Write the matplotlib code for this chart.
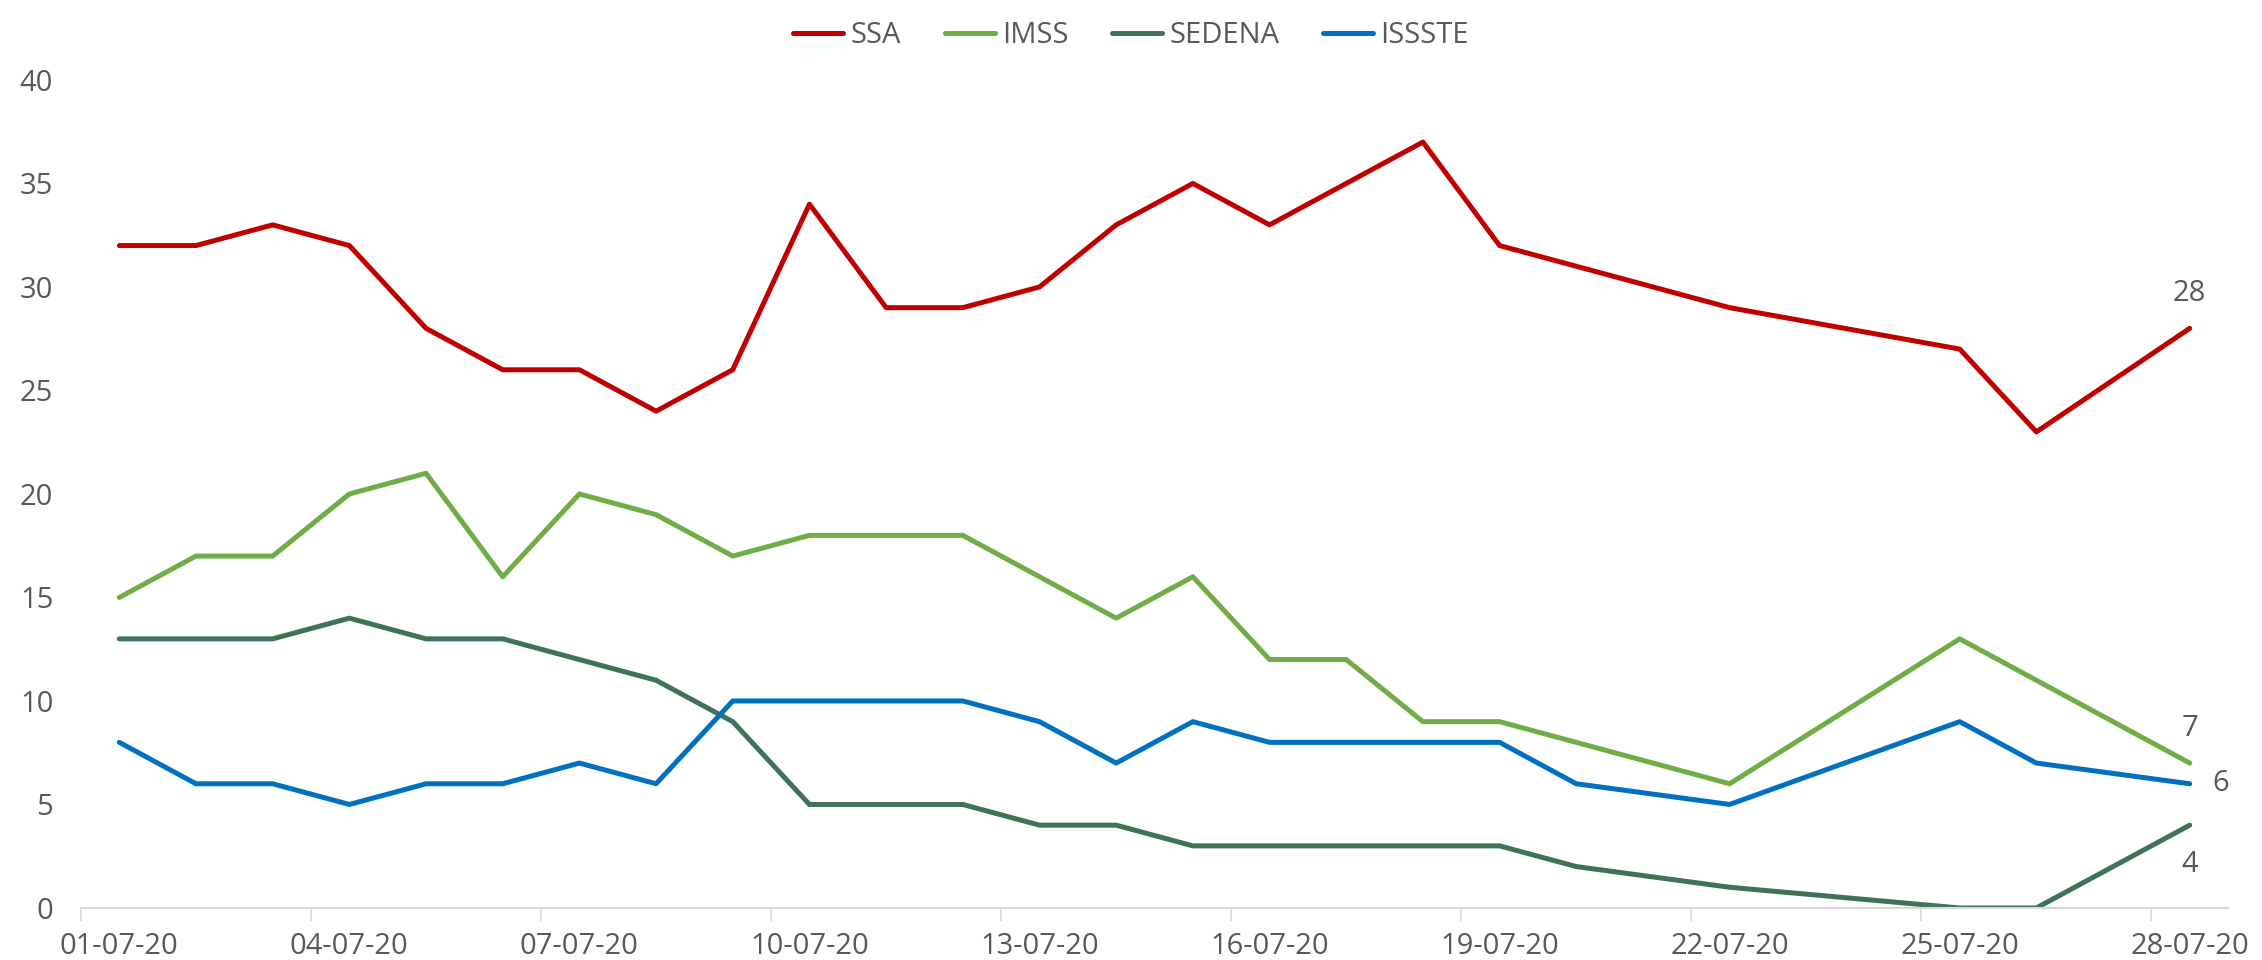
import numpy as np
import matplotlib
matplotlib.use("Agg")
import matplotlib.pyplot as plt

# ---- data ----
dates = ["01-07-20", "02-07-20", "03-07-20", "04-07-20", "05-07-20", "06-07-20", "07-07-20",
         "08-07-20", "09-07-20", "10-07-20", "11-07-20", "12-07-20", "13-07-20", "14-07-20",
         "15-07-20", "16-07-20", "17-07-20", "18-07-20", "19-07-20", "20-07-20", "21-07-20",
         "22-07-20", "23-07-20", "24-07-20", "25-07-20", "26-07-20", "27-07-20", "28-07-20"]
N = None
ssa    = [32, 32, 33, 32, 28, 26, 26, 24, 26, 34, 29, 29, 30, 33, 35, 33, 35, 37, 32, 31, N, 29, N, N, 27, 23, N, 28]
imss   = [15, 17, 17, 20, 21, 16, 20, 19, 17, 18, 18, 18, 16, 14, 16, 12, 12, 9, 9, 8, N, 6, N, N, 13, 11, N, 7]
sedena = [13, 13, 13, 14, 13, 13, 12, 11, 9, 5, 5, 5, 4, 4, 3, 3, 3, 3, 3, 2, N, 1, N, N, 0, 0, N, 4]
issste = [8, 6, 6, 5, 6, 6, 7, 6, 10, 10, 10, 10, 9, 7, 9, 8, 8, 8, 8, 6, N, 5, N, N, 9, 7, N, 6]

series_names = ["SSA", "IMSS", "SEDENA", "ISSSTE"]
series_vals = [ssa, imss, sedena, issste]
colors = ["#C00000", "#70AD47", "#3E7358", "#0070C0"]
label_offsets = [(0, 25), (0, 25), (0, -28), (22, 0)]

plt.rcParams['font.family'] = ['Open Sans', 'DejaVu Sans']
TXT = "#595959"

fig = plt.figure(figsize=(22.62, 9.6), dpi=100)
ax = fig.add_axes([0.0358, 0.0542, 0.9492, 0.8625])

x = np.arange(len(dates))
handles = []
for name, vals, c, off in zip(series_names, series_vals, colors, label_offsets):
    y = np.array([np.nan if v is None else v for v in vals], dtype=float)
    m = ~np.isnan(y)
    h, = ax.plot(x[m], y[m], color=c, lw=3.6, solid_capstyle='round',
                 solid_joinstyle='round', label=name)
    handles.append(h)
    ax.annotate(f"{int(y[m][-1])}", (x[m][-1], y[m][-1]), xytext=off,
                textcoords="offset points", ha="center", va="center",
                fontsize=21, color=TXT)

ax.set_xlim(-0.5, len(dates) - 0.5)
ax.set_ylim(0, 40)
ax.set_yticks(np.arange(0, 41, 5))

ax.set_xticks(np.arange(-0.5, len(dates) - 1, 3))
ax.set_xticklabels([])
ax.set_xticks(x[::3], minor=True)
ax.set_xticklabels([dates[i] for i in x[::3]], minor=True)
ax.tick_params(axis='x', which='major', length=9, width=1.2, color="#D9D9D9")
ax.tick_params(axis='x', which='minor', length=0, pad=17, labelsize=21, labelcolor=TXT)
ax.tick_params(axis='y', length=0, pad=20, labelsize=21, labelcolor=TXT)

for s in ["left", "right", "top"]:
    ax.spines[s].set_visible(False)
ax.spines["bottom"].set_color("#D9D9D9")
ax.spines["bottom"].set_linewidth(1.5)

leg = fig.legend(handles=handles, loc="upper center", bbox_to_anchor=(0.5, 1.005),
                 ncol=4, frameon=False, fontsize=21, handlelength=1.71,
                 handletextpad=0.25, columnspacing=1.5, labelcolor=TXT)

fig.savefig("out.png", dpi=100)
